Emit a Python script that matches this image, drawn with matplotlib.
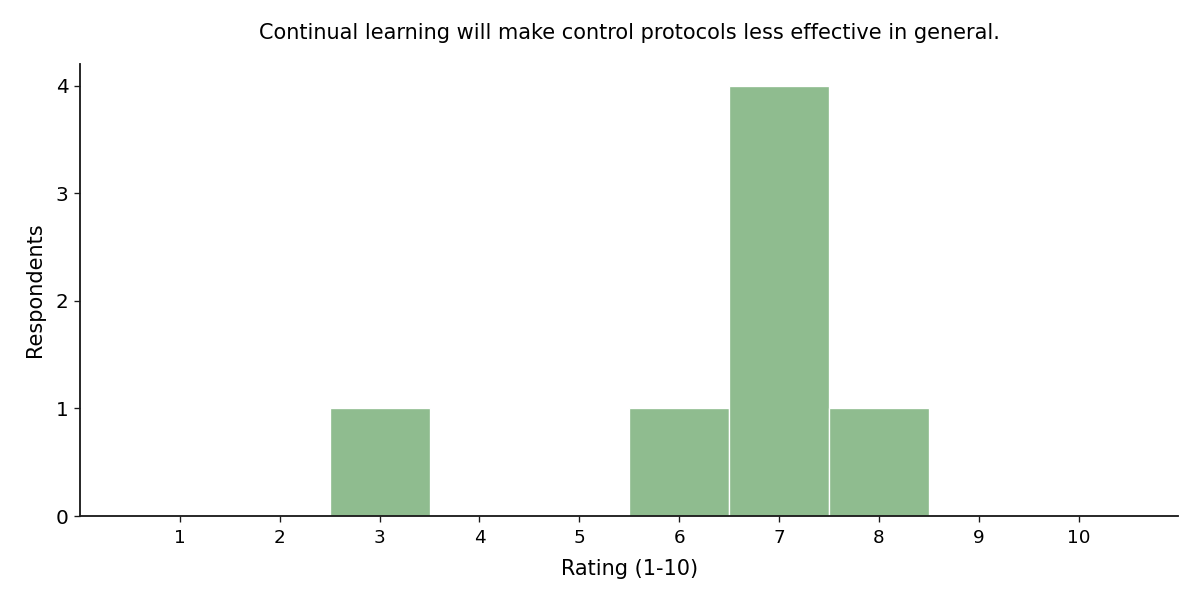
import matplotlib
matplotlib.use("Agg")
import matplotlib.pyplot as plt

# survey data
ratings = [1, 2, 3, 4, 5, 6, 7, 8, 9, 10]
counts = [0, 0, 1, 0, 0, 1, 4, 1, 0, 0]
title = "Continual learning will make control protocols less effective in general."

fig, ax = plt.subplots(figsize=(10, 5), dpi=120)
fig.subplots_adjust(left=0.0667, right=0.982, top=0.893, bottom=0.14)

ax.bar(ratings, counts, width=1.0, color="#8fbc8f", edgecolor="white", linewidth=0.8)

ax.set_xlim(0, 11)
ax.set_ylim(0, 4.2)
ax.set_xticks(ratings)
ax.set_yticks(range(0, 5))
ax.tick_params(axis="x", labelsize=11, pad=4.5)
ax.tick_params(axis="y", labelsize=12)
ax.set_xlabel("Rating (1-10)", fontsize=12.5, labelpad=7)
ax.set_ylabel("Respondents", fontsize=12.5, labelpad=6)
ax.set_title(title, fontsize=12.5, pad=15)

for side in ["top", "right"]:
    ax.spines[side].set_visible(False)
for side in ["left", "bottom"]:
    ax.spines[side].set_color("#1a1a1a")
    ax.spines[side].set_linewidth(1.1)
ax.tick_params(colors="#1a1a1a", labelcolor="black")

fig.savefig("out.png", dpi=120)
